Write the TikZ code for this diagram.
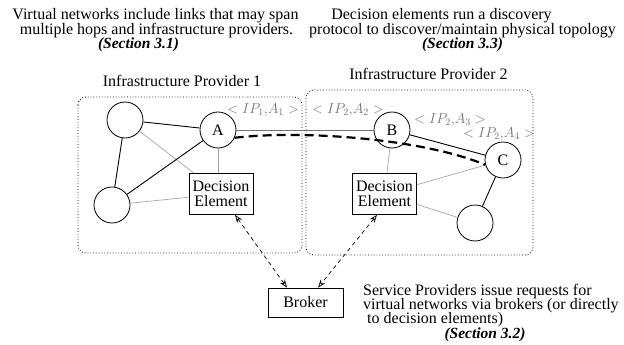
\documentclass[tikz,border=0pt]{standalone}
\usepackage{fontspec}
\setmainfont{Liberation Serif}
\usetikzlibrary{arrows.meta}
\begin{document}
\begin{tikzpicture}[x=1pt,y=-1pt,
  font=\fontsize{16}{15}\selectfont,
  host/.style={circle,draw,line width=0.8pt,minimum size=36pt,inner sep=0pt},
  decider/.style={draw,line width=0.8pt,align=center,minimum width=64pt,minimum height=41pt,inner sep=1pt,fill=white},
  phys/.style={line width=0.9pt},
  ctrl/.style={black!35,line width=0.7pt},
  vlink/.style={black!55,line width=1pt},
  addr/.style={text=black!55,font=\fontsize{14.5}{15}\selectfont,inner sep=0pt},
  provbox/.style={dotted,line width=0.8pt,rounded corners=8pt},
  req/.style={dashed,dash pattern=on 4pt off 3.5pt,line width=0.7pt,
    {Stealth[open,length=8pt,width=6pt]}-{Stealth[open,length=8pt,width=6pt]}},
  note/.style={anchor=base,inner sep=0pt},
  sect/.style={anchor=base,inner sep=0pt,font=\fontsize{15.5}{15}\selectfont\bfseries\itshape}]
\useasboundingbox (0,0) rectangle (624,345);

% top captions
\node[note] (t1) at (155.5,20) {Virtual networks include links that may span};
\node[note] (t2) at (156.5,34.5) {multiple hops and infrastructure providers.};
\node[sect] (s1) at (138.5,48.5) {(Section 3.1)};
\node[note] (r1) at (441.5,20) {Decision elements run a discovery};
\node[note] (r2) at (462.5,34.5) {protocol to discover/maintain physical topology};
\node[sect] (s3) at (462.5,48.5) {(Section 3.3)};

% provider domains
\node[note] (ip1) at (182,87) {Infrastructure Provider 1};
\node[note] (ip2) at (428.5,80) {Infrastructure Provider 2};
\draw[provbox] (78,97) rectangle (302,253);
\draw[provbox] (306,90) rectangle (533,255);

% nodes
\node[host] (tl) at (125,120) {};
\node[host] (a) at (218,130) {A};
\node[host] (bl) at (112,205) {};
\node[host] (b) at (392,130) {B};
\node[host] (c) at (503,160) {C};
\node[host] (br) at (475,223) {};
\node[decider] (de1) at (221,194) {Decision\\Element};
\node[decider] (de2) at (384.5,194) {Decision\\Element};
\node[draw,line width=0.8pt,minimum width=75pt,minimum height=29pt,inner sep=1pt] (broker) at (305.5,302.5) {Broker};

% control links to the decision elements
\draw[ctrl] (tl) -- (de1);
\draw[ctrl] (bl) -- (de1);
\draw[ctrl] (a.south) -- (a.south |- de1.north);
\draw[ctrl] (b) -- (de2);
\draw[ctrl] (c) -- (de2);
\draw[ctrl] (br) -- (de2);

% physical links
\draw[phys] (tl) -- (a);
\draw[phys] (tl) -- (bl);
\draw[phys] (bl) -- (a);
\draw[phys] (b) -- (c);
\draw[phys] (c) -- (br);
\draw[vlink] (a.east) -- (b.west);

% virtual link spanning both providers
\draw[line width=2.2pt,dash pattern=on 9pt off 5pt]
  (a.-25) .. controls (300,130) and (420,138) .. (c.195);

% node addresses
\node[addr] (l1) at (263,110) {$<IP_1{,}A_1>$};
\node[addr] (l2) at (348,110) {$<IP_2{,}A_2>$};
\node[addr] (l3) at (450,119.5) {$<IP_2{,}A_3>$};
\node[addr] (l4) at (499,133.5) {$<IP_2{,}A_4>$};

% requests through the broker
\draw[req] ([xshift=14pt]de1.south) -- ([xshift=-18.5pt]broker.north);
\draw[req] ([xshift=-7.5pt]de2.south) -- ([xshift=12.5pt]broker.north);

% service provider caption
\node[note,anchor=base west] (b1) at (363,295) {Service Providers issue requests for};
\node[note,anchor=base west] (b2) at (363,309) {virtual networks via brokers (or directly};
\node[note,anchor=base west] (b3) at (367,323) {to decision elements)};
\node[sect] (s2) at (485,338.5) {(Section 3.2)};
\end{tikzpicture}
\end{document}
